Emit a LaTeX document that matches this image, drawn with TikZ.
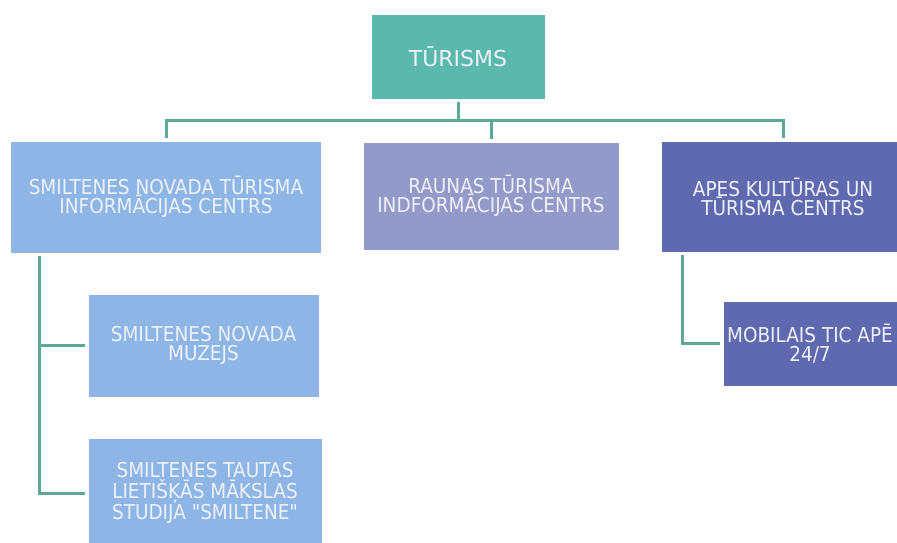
\documentclass[tikz,border=0pt]{standalone}
\usepackage{fontspec}
\setmainfont{DejaVu Sans}
\newfontfamily\boxfont[FakeStretch=0.9]{DejaVu Sans}
\definecolor{cteal}{HTML}{5BB8AD}
\definecolor{clight}{HTML}{8DB6E7}
\definecolor{cmid}{HTML}{9399C9}
\definecolor{cdark}{HTML}{5E69AF}
\definecolor{cline}{HTML}{5CA899}
\definecolor{ctext}{HTML}{EEF2F8}
\begin{document}
\begin{tikzpicture}[x=1pt,y=-1pt,
  box/.style={rectangle, draw=white, line width=0.6pt, inner sep=0pt, align=center,
    text=ctext, font=\boxfont\fontsize{20.5}{19}\selectfont},
  conn/.style={draw=cline, line width=3pt, shorten <=3pt, shorten >=3pt}]
\useasboundingbox (0,0) rectangle (897,542);
\clip (0,0) rectangle (897,542);
\node[box, fill=cteal, minimum width=174pt, minimum height=85pt, font=\fontsize{22}{22}\selectfont] (top) at (458,56.5) {TŪRISMS};
\node[box, fill=clight, minimum width=311pt, minimum height=112pt] (b1) at (166,197) {SMILTENES NOVADA TŪRISMA\\INFORMĀCIJAS CENTRS};
\node[box, fill=cmid, minimum width=256pt, minimum height=108pt] (b2) at (491,196) {RAUNAS TŪRISMA\\INDFORMĀCIJAS CENTRS};
\node[box, fill=cdark, minimum width=244pt, minimum height=111pt] (b3) at (783,196.5) {APES KULTŪRAS UN\\TŪRISMA CENTRS};
\node[box, fill=clight, minimum width=231pt, minimum height=103pt] (b4) at (203.5,345.5) {SMILTENES NOVADA\\MUZEJS};
\node[box, fill=clight, minimum width=234pt, minimum height=110pt] (b5) at (205,493) {SMILTENES TAUTAS\\LIETIŠĶĀS MĀKSLAS\\STUDIJA \char34SMILTENE\char34};
\node[box, fill=cdark, minimum width=174pt, minimum height=85pt] (b6) at (810,343.5) {MOBILAIS TIC APĒ\\24/7};
\coordinate (bus) at (458,120);
\draw[conn] (top.south) -- (bus) -| (b1.north);
\draw[conn] (top.south) -- (bus) -| (b2.north);
\draw[conn] (top.south) -- (bus) -| (b3.north);
\draw[conn] ([xshift=29pt]b1.south west) |- (b4.west);
\draw[conn] ([xshift=29pt]b1.south west) |- (b5.west);
\draw[conn] ([xshift=22pt]b3.south west) |- (b6.west);
\end{tikzpicture}
\end{document}
